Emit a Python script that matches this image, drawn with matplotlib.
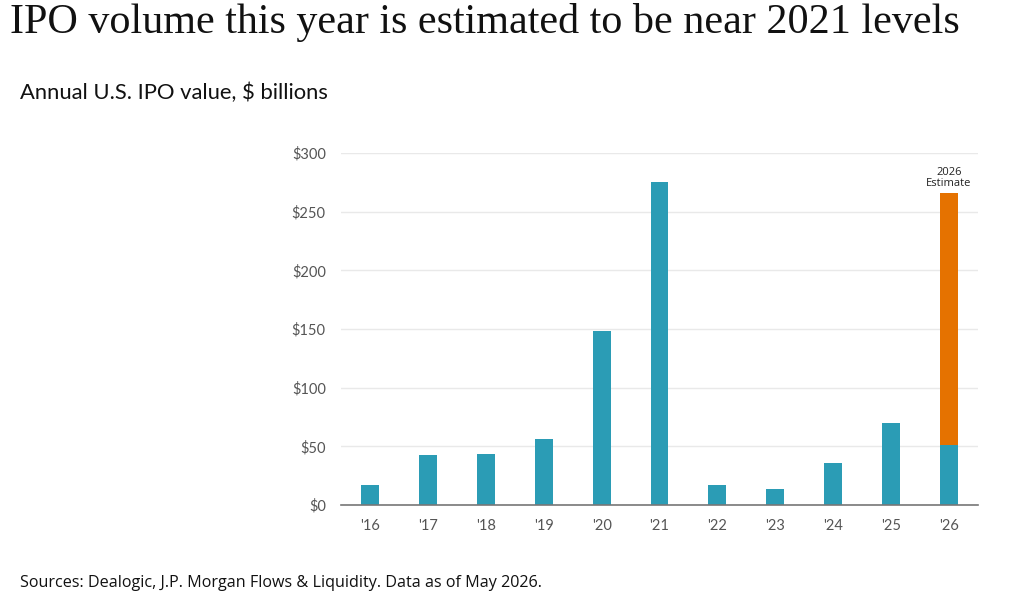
import matplotlib
matplotlib.use("Agg")
import matplotlib.pyplot as plt
import numpy as np

years = ["'16", "'17", "'18", "'19", "'20", "'21", "'22", "'23", "'24", "'25", "'26"]
actual = [17, 42.5, 43.5, 56, 148, 275.5, 17, 13.5, 36, 69.5, 51]
estimate_extra = [0, 0, 0, 0, 0, 0, 0, 0, 0, 0, 214.5]
yticks = [0, 50, 100, 150, 200, 250, 300]
ytick_labels = ["$0", "$50", "$100", "$150", "$200", "$250", "$300"]

teal = "#2B9CB5"
orange = "#E57200"

fig = plt.figure(figsize=(10.23, 6.06), dpi=100)
W, H = 1023, 606
ax = fig.add_axes([341 / W, 1 - 505 / H, (978 - 341) / W, (505 - 153) / H])

x = np.arange(len(years))
ax.bar(x, actual, width=0.31, color=teal, zorder=3)
ax.bar(x, estimate_extra, bottom=actual, width=0.31, color=orange, zorder=3)

ax.set_xlim(-0.5, len(years) - 0.5)
ax.set_ylim(0, 300)
ax.set_yticks(yticks)
ax.set_yticklabels(ytick_labels)
ax.set_xticks(x)
ax.set_xticklabels(years)
ax.grid(axis="y", color="#e9e9e9", linewidth=1, zorder=0)
ax.tick_params(axis="both", length=0, labelsize=10.5, labelcolor="#555555")
ax.tick_params(axis="x", pad=10)
ax.tick_params(axis="y", pad=11)
for s in ["top", "right", "left"]:
    ax.spines[s].set_visible(False)
ax.spines["bottom"].set_color("#777777")
ax.spines["bottom"].set_linewidth(1.2)
ax.spines["bottom"].set_zorder(4)
for lbl in ax.get_xticklabels() + ax.get_yticklabels():
    lbl.set_family("Lato")

last = len(years) - 1
ax.annotate("2026\nEstimate", xy=(last, actual[last] + estimate_extra[last]),
            xytext=(0, 3), textcoords="offset points", ha="center", va="bottom",
            fontsize=8, color="#222222", family="Open Sans", linespacing=1.1,
            annotation_clip=False)

fig.text(10 / W, 1 - 22 / H, "IPO volume this year is estimated to be near 2021 levels",
         family="Liberation Serif", fontsize=30.3, va="center", ha="left", color="#111111")
fig.text(20 / W, 1 - 93 / H, "Annual U.S. IPO value, $ billions",
         family="Lato", fontsize=15.8, va="center", ha="left", color="#111111")
fig.text(20 / W, 1 - 583 / H, "Sources: Dealogic, J.P. Morgan Flows & Liquidity. Data as of May 2026.",
         family="Open Sans", fontsize=11.6, va="center", ha="left", color="#111111")

fig.savefig("out.png", dpi=100)
